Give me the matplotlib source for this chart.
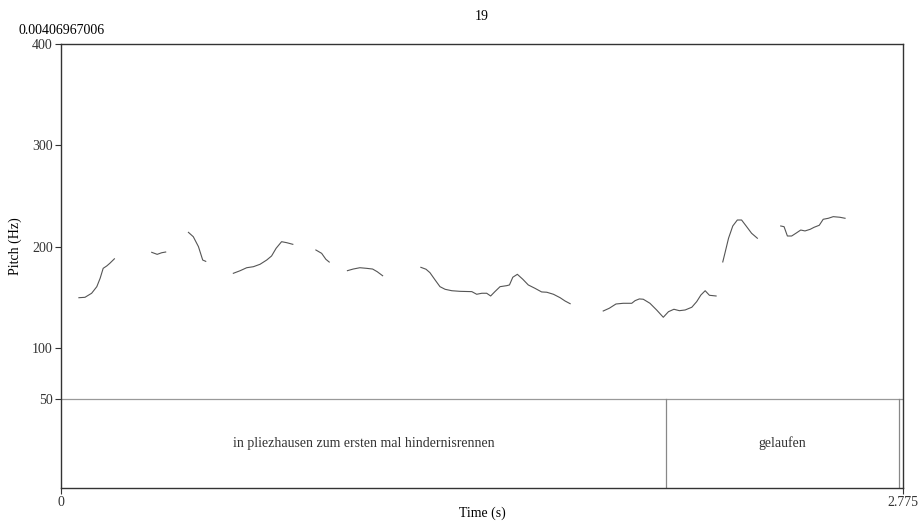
import matplotlib.pyplot as plt

plt.rcParams['font.family'] = ['Liberation Serif', 'DejaVu Serif']
plt.rcParams['font.size'] = 10

# pitch segments: time (s), pitch (Hz)
t1 = [0.059, 0.079, 0.101, 0.118, 0.129, 0.139, 0.151, 0.161, 0.176]
f1 = [149.6, 150.0, 154.0, 160.5, 168.8, 178.6, 181.0, 183.6, 188.0]

t2 = [0.299, 0.317, 0.332, 0.345]
f2 = [194.4, 192.4, 194.0, 194.7]

t3 = [0.420, 0.436, 0.453, 0.467, 0.477]
f3 = [214.1, 209.8, 200.0, 186.8, 185.5]

t4 = [0.568, 0.590, 0.612, 0.634, 0.656, 0.678, 0.694, 0.709, 0.727, 0.744, 0.764]
f4 = [173.7, 176.2, 179.2, 180.2, 182.6, 186.8, 190.8, 198.4, 204.9, 203.9, 202.3]

t5 = [0.840, 0.859, 0.873, 0.884]
f5 = [196.7, 193.4, 187.5, 184.8]

t6 = [0.944, 0.963, 0.985, 1.007, 1.027, 1.042, 1.060]
f6 = [176.3, 177.9, 179.2, 178.6, 177.9, 175.3, 171.3]

t7 = [1.186, 1.203, 1.216, 1.233, 1.249, 1.266, 1.288, 1.315, 1.354, 1.370,
      1.387, 1.403, 1.416, 1.430, 1.447, 1.469, 1.478, 1.489, 1.504, 1.522,
      1.540, 1.562, 1.584, 1.601, 1.623, 1.645, 1.661, 1.678]
f7 = [179.6, 177.7, 174.3, 167.1, 160.5, 157.9, 156.5, 155.9, 155.6, 153.0,
      154.0, 154.0, 151.3, 155.6, 160.5, 161.5, 162.2, 169.8, 172.7, 167.8,
      162.2, 158.9, 155.3, 155.0, 153.0, 149.6, 146.4, 143.7]

t8 = [1.787, 1.807, 1.829, 1.853, 1.881, 1.892, 1.906, 1.919, 1.941, 1.963,
      1.985, 2.002, 2.020, 2.038, 2.057, 2.079, 2.095, 2.109, 2.123, 2.137, 2.159]
f8 = [136.5, 139.2, 143.4, 144.1, 144.1, 146.7, 148.4, 148.1, 144.1, 137.5,
      130.3, 135.8, 138.2, 136.8, 137.5, 140.2, 145.7, 152.3, 156.5, 152.0, 151.3]

t9 = [2.181, 2.188, 2.200, 2.214, 2.229, 2.243, 2.258, 2.276, 2.295]
f9 = [184.9, 193.4, 208.3, 220.4, 226.3, 226.3, 220.4, 213.2, 208.3]

t10 = [2.372, 2.383, 2.394, 2.408, 2.422, 2.438, 2.452, 2.469, 2.482, 2.499,
       2.512, 2.529, 2.545, 2.567, 2.584]
f10 = [220.4, 219.7, 210.5, 210.5, 213.2, 216.4, 215.5, 217.1, 219.1, 221.1,
       227.0, 228.0, 229.6, 229.0, 228.0]

segments = [(t1, f1), (t2, f2), (t3, f3), (t4, f4), (t5, f5),
            (t6, f6), (t7, f7), (t8, f8), (t9, f9), (t10, f10)]

# text grid tier
boundaries = [1.994, 2.762]
intervals = [(0.0, 1.994, 'in pliezhausen zum ersten mal hindernisrennen'),
             (1.994, 2.762, 'gelaufen')]

t_end = 2.775
f_top = 400
tier_top = 50
f_bottom = -38.2

fig = plt.figure(figsize=(9.24, 5.24), dpi=100)
ax = fig.add_axes([61 / 924, 36 / 524, 842 / 924, 444 / 524])

for t, f in segments:
    ax.plot(t, f, color='#555555', lw=0.8)

ax.axhline(tier_top, color='#999999', lw=0.9)
for b in boundaries:
    ax.plot([b, b], [f_bottom, tier_top], color='#888888', lw=0.9)
for start, end, label in intervals:
    ax.text((start + end) / 2, (tier_top + f_bottom) / 2, label,
            ha='center', va='center', color='#333333')

ax.set_xlim(0, t_end)
ax.set_ylim(f_bottom, f_top)
ax.set_yticks([50, 100, 200, 300, 400])
ax.set_xticks([0, t_end])
ax.set_xticklabels(['0', '2.775'])
ax.tick_params(direction='out', length=4, width=0.8, colors='#333333', pad=2)
for s in ax.spines.values():
    s.set_color('#333333')
    s.set_linewidth(1.0)

fig.text(0.5 * (61 + 903) / 924, 1 - 17 / 524, '19', ha='center', va='center')
fig.text(62 / 924, 1 - 31 / 524, '0.00406967006', ha='center', va='center')
fig.text(482 / 924, 1 - 513 / 524, 'Time (s)', ha='center', va='center')
fig.text(15 / 924, 1 - 246 / 524, 'Pitch (Hz)', ha='center', va='center', rotation=90)

fig.savefig('out.png', dpi=100)
